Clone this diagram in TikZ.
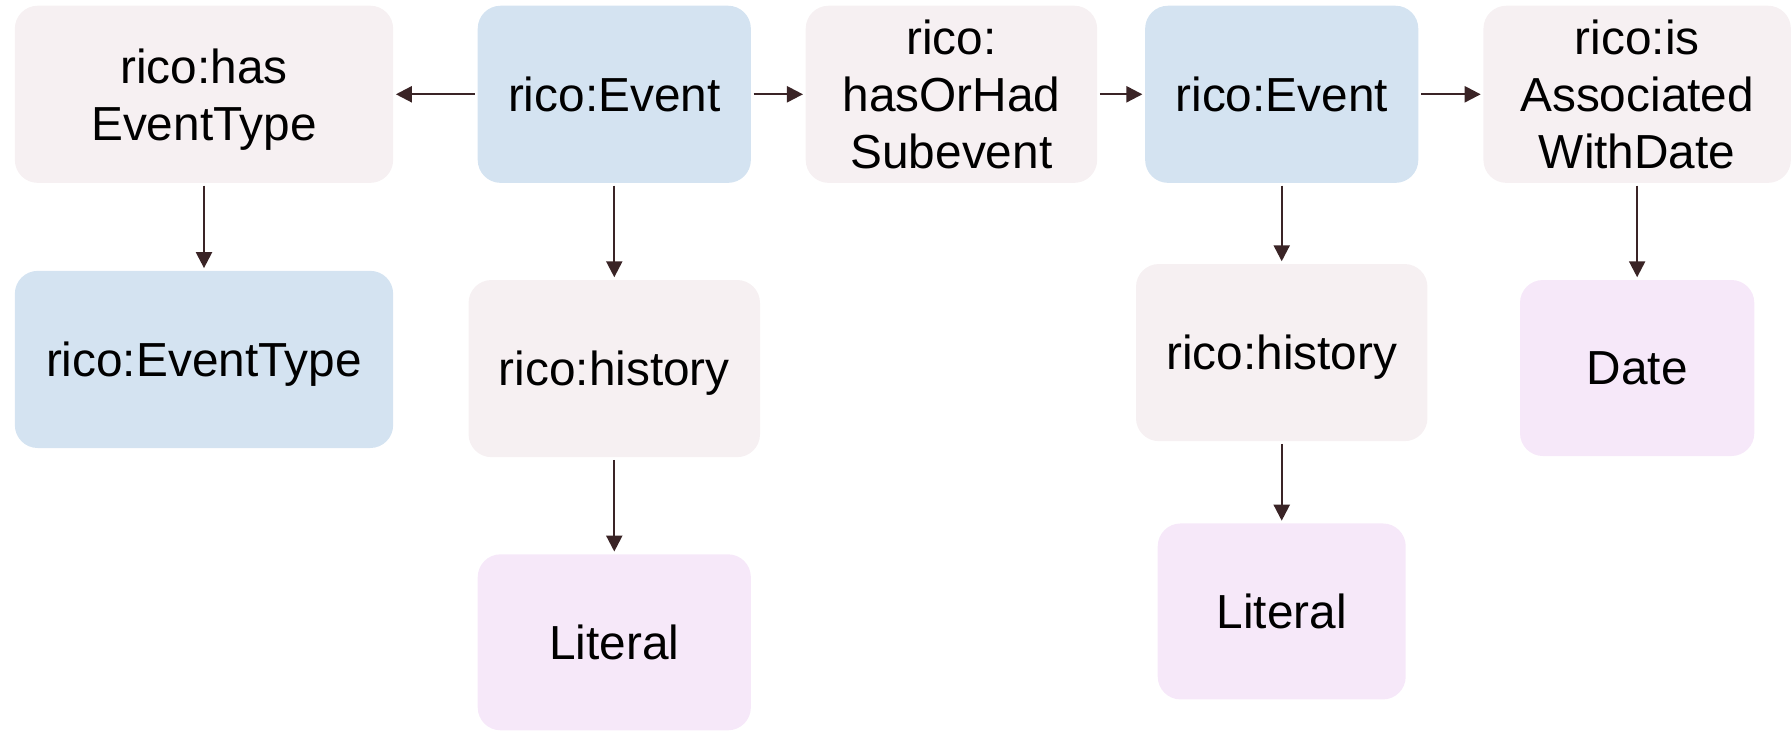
\documentclass[tikz,border=0pt]{standalone}
\usepackage{fontspec}
\setmainfont{Liberation Sans}
\usetikzlibrary{arrows.meta}
\definecolor{propfill}{HTML}{F6F0F2}
\definecolor{classfill}{HTML}{D4E3F1}
\definecolor{litfill}{HTML}{F6E8F9}
\definecolor{arrowcol}{HTML}{3A2426}
\begin{document}
\begin{tikzpicture}[x=0.5pt,y=-0.5pt,
  box/.style={rectangle,rounded corners=10pt,draw=none,inner sep=0pt,align=center,
    font=\fontsize{20.9pt}{25pt}\selectfont,minimum height=77.5pt,text depth=0pt},
  prop/.style={box,fill=propfill},
  cls/.style={box,fill=classfill},
  lit/.style={box,fill=litfill},
  conn/.style={draw=arrowcol,line width=1pt,shorten <=1pt,shorten >=1pt,
    -{Triangle[length=7pt,width=7pt]}}]
\useasboundingbox (0,0) rectangle (1568,639);
\node[prop,minimum width=165.5pt] (het) at (178.5,82.5) {rico:has\\EventType};
\node[cls,minimum width=119.5pt] (ev1) at (537.5,82.5) {rico:Event};
\node[prop,minimum width=127.5pt] (sub) at (832.5,82.5) {rico:\\hasOrHad\\Subevent};
\node[cls,minimum width=119.5pt] (ev2) at (1121.5,82.5) {rico:Event};
\node[prop,minimum width=134.5pt] (assoc) at (1432.5,82.5) {rico:is\\Associated\\WithDate};
\node[cls,minimum width=165.5pt] (etype) at (178.5,314.5) {rico:EventType};
\node[prop,minimum width=127.5pt] (hist1) at (537.5,322.5) {rico:history};
\node[lit,minimum width=119.5pt,minimum height=77pt] (lit1) at (537.5,562) {Literal};
\node[prop,minimum width=127.5pt] (hist2) at (1121.5,308.5) {rico:history};
\node[lit,minimum width=108.5pt,minimum height=77pt] (lit2) at (1121.5,535) {Literal};
\node[lit,minimum width=102.5pt,minimum height=77pt] (date) at (1432.5,322) {Date};
\draw[conn] (ev1) -- (het);
\draw[conn] (ev1) -- (sub);
\draw[conn] (sub) -- (ev2);
\draw[conn] (ev2) -- (assoc);
\draw[conn] (het) -- (etype);
\draw[conn] (ev1) -- (hist1);
\draw[conn] (hist1) -- (lit1);
\draw[conn] (ev2) -- (hist2);
\draw[conn] (hist2) -- (lit2);
\draw[conn] (assoc) -- (date);
\end{tikzpicture}
\end{document}
